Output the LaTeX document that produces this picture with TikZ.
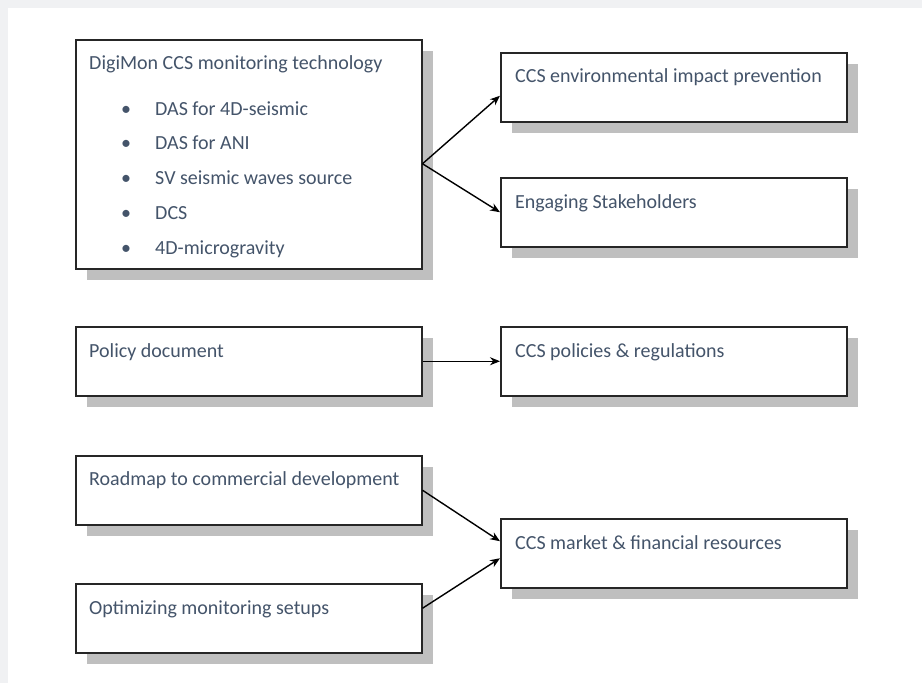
\documentclass[tikz,border=0pt]{standalone}
\usepackage{fontspec}
\setmainfont{Carlito}
\usepackage{tikz}
\usetikzlibrary{arrows.meta,positioning,calc,shadows}
\definecolor{slatetext}{HTML}{44546A}
\definecolor{shadowgray}{HTML}{BFBFBF}
\definecolor{pagegray}{HTML}{F0F1F3}

\begin{document}
\begin{tikzpicture}[x=1pt,y=1pt,>={Stealth[length=10pt,width=8pt]},
    card/.style={draw=black!85,line width=1.5pt,fill=white,minimum width=346pt,
        minimum height=69pt,inner sep=0pt,anchor=north west,
        drop shadow={shadow xshift=11pt,shadow yshift=-11pt,fill=shadowgray,opacity=1}},
    cardtext/.style={anchor=base west,inner sep=0pt,text=slatetext,
        font=\fontsize{20}{24}\selectfont},
    link/.style={->,line width=1.4pt}]
    % Draw page background
    \useasboundingbox (0,0) rectangle (922,-683);
    \fill[pagegray] (0,0) rectangle (922,-683);
    \fill[white] (8,-8) rectangle (922,-683);

    % Draw boxes
    \node[card,minimum height=229pt] (tech) at (75,-39) {};
    \node[card] (env) at (500,-52) {};
    \node[card] (stake) at (500,-177) {};
    \node[card] (policy) at (75,-326) {};
    \node[card] (regs) at (500,-326) {};
    \node[card] (roadmap) at (75,-455) {};
    \node[card] (market) at (500,-518) {};
    \node[card] (setups) at (75,-583) {};

    % Box texts
    \node[cardtext] (techtitle) at ($(tech.north west)+(14,-30)$) {DigiMon CCS monitoring technology};
    \foreach \entry [count=\i] in {DAS for 4D-seismic,DAS for ANI,SV seismic waves source,DCS,4D-microgravity} {
        \node[cardtext,anchor=base] (dot\i) at ($(tech.north west)+(51,-76-34.75*\i+34.75)$) {\textbullet};
        \node[cardtext] (entry\i) at ($(tech.north west)+(80,-76-34.75*\i+34.75)$) {\entry};
    }
    \node[cardtext] (envtext) at ($(env.north west)+(15,-30)$) {CCS environmental impact prevention};
    \node[cardtext] (staketext) at ($(stake.north west)+(15,-31)$) {Engaging Stakeholders};
    \node[cardtext] (policytext) at ($(policy.north west)+(14,-31)$) {Policy document};
    \node[cardtext] (regstext) at ($(regs.north west)+(15,-31)$) {CCS policies \& regulations};
    \node[cardtext] (roadmaptext) at ($(roadmap.north west)+(14,-30)$) {Roadmap to commercial development};
    \node[cardtext] (markettext) at ($(market.north west)+(15,-31)$) {CCS market \& financial resources};
    \node[cardtext] (setupstext) at ($(setups.north west)+(14,-31)$) {Optimizing monitoring setups};

    % Draw connectors
    \draw[link] ($(tech.east)+(0,-9.5)$) -- ($(env.west)+(0,-8.5)$);
    \draw[link] ($(tech.east)+(0,-9.5)$) -- (stake.west);
    \draw[link] (policy.east) -- (regs.west);
    \draw[link] (roadmap.east) -- ($(market.west)+(0,12)$);
    \draw[link] ($(setups.east)+(0,10)$) -- ($(market.west)+(0,-5)$);
\end{tikzpicture}
\end{document}
